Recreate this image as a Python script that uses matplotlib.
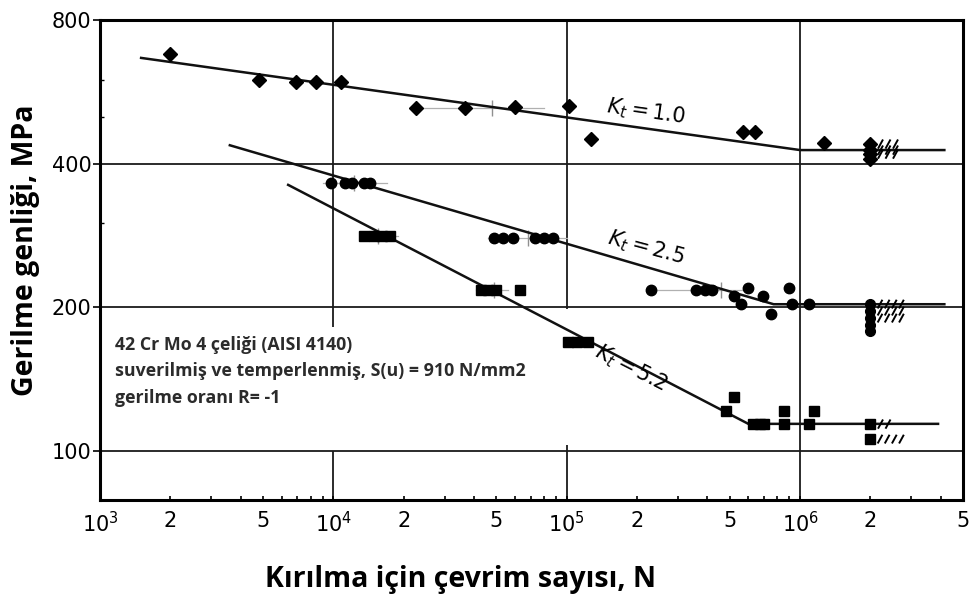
import numpy as np
import matplotlib
matplotlib.use("Agg")
import matplotlib.pyplot as plt
from matplotlib.path import Path
from matplotlib.ticker import FixedLocator, NullFormatter

# ---- data ----
# Kt = 1.0, smooth specimens (diamonds)
kt10_N = [2.0e3, 4.8e3, 6.9e3, 8.4e3, 1.08e4, 2.27e4, 3.65e4, 6.0e4, 1.02e5, 1.27e5, 5.7e5, 6.4e5, 1.26e6]
kt10_S = [680, 600, 594, 594, 594, 522, 522, 525, 527, 450, 466, 466, 441]
kt10_runout_N = [2.0e6, 2.0e6, 2.0e6, 2.0e6]
kt10_runout_S = [440, 428, 418, 408]
kt10_line_N = [1.5e3, 1.0e6, 4.15e6]
kt10_line_S = [666, 427, 427]

# Kt = 2.5 (circles)
kt25_N = [9.8e3, 1.12e4, 1.2e4, 1.35e4, 1.44e4,
          4.86e4, 5.34e4, 5.9e4, 7.3e4, 8.0e4, 8.7e4,
          2.29e5, 3.58e5, 3.9e5, 4.2e5, 5.2e5, 5.6e5, 6.0e5, 6.9e5, 7.5e5, 9.0e5, 9.2e5, 1.09e6]
kt25_S = [365, 365, 365, 365, 365,
          280, 280, 280, 280, 280, 280,
          217, 217, 217, 217, 211, 203, 219, 211, 194, 219, 203, 203]
kt25_runout_N = [2.0e6, 2.0e6, 2.0e6, 2.0e6, 2.0e6]
kt25_runout_S = [203, 196, 190, 184, 178]
kt25_line_N = [3.6e3, 7.7e5, 4.15e6]
kt25_line_S = [437, 203, 203]

# Kt = 5.2 (squares)
kt52_N = [1.35e4, 1.5e4, 1.62e4, 1.75e4,
          4.3e4, 4.6e4, 5.0e4, 6.3e4,
          1.01e5, 1.11e5, 1.23e5,
          4.8e5, 5.2e5, 6.3e5, 6.7e5, 7.0e5, 8.5e5, 8.5e5, 1.09e6, 1.15e6]
kt52_S = [282, 282, 282, 282,
          217, 217, 217, 217,
          169, 169, 169,
          121, 130, 114, 114, 114, 114, 121, 114, 121]
kt52_runout_N = [2.0e6, 2.0e6]
kt52_runout_S = [114, 106]
kt52_line_N = [6.4e3, 6.0e5, 3.9e6]
kt52_line_S = [361, 114, 114]

# scatter bands: (N low, N high, stress, N of cross)
bands = [
    (2.3e4, 8.0e4, 522, 4.8e4),
    (9.0e3, 1.7e4, 365, 1.22e4),
    (4.6e4, 1.0e5, 280, 6.8e4),
    (2.3e5, 6.0e5, 217, 4.6e5),
    (1.3e4, 1.9e4, 282, 1.55e4),
    (4.1e4, 5.6e4, 217, 4.9e4),
]

x_ticks = [1e3, 2e3, 5e3, 1e4, 2e4, 5e4, 1e5, 2e5, 5e5, 1e6, 2e6, 5e6]
x_labels = [r'$10^3$', '2', '5', r'$10^4$', '2', '5', r'$10^5$', '2', '5', r'$10^6$', '2', '5']
y_ticks = [100, 200, 400, 800]
y_labels = ['100', '200', '400', '800']

info_lines = ["42 Cr Mo 4 çeliği (AISI 4140)",
              "suverilmiş ve temperlenmiş, S(u) = 910 N/mm2",
              "gerilme oranı R= -1"]


def runout_marker(n):
    # n slanted strokes to the right of the point (run-out arrows)
    verts, codes = [(-4, 0), (-4, 0)], [Path.MOVETO, Path.LINETO]
    for i in range(n):
        x0 = 1.2 + 0.9 * i
        verts += [(x0 - 0.3, -0.5), (x0 + 0.3, 0.6)]
        codes += [Path.MOVETO, Path.LINETO]
    return Path(verts, codes)


# ---- figure ----
fig = plt.figure(figsize=(9.71, 6.03), dpi=100)
ax = fig.add_axes([0.103, 0.171, 0.889, 0.796])
ax.set_xscale('log')
ax.set_yscale('log')
ax.set_xlim(1e3, 5e6)
ax.set_ylim(79, 800)

# grid (with the gaps of the original drawing)
for yv in [100, 200, 400]:
    ax.axhline(yv, color='#1a1a1a', lw=1.3, zorder=1)
ax.vlines(1e4, 79, 100, color='#1a1a1a', lw=1.3, zorder=1)
ax.vlines(1e4, 182, 800, color='#1a1a1a', lw=1.3, zorder=1)
ax.vlines(1e5, 79, 103, color='#1a1a1a', lw=1.3, zorder=1)
ax.vlines(1e5, 198, 800, color='#1a1a1a', lw=1.3, zorder=1)
ax.vlines(1e6, 79, 800, color='#1a1a1a', lw=1.3, zorder=1)

# scatter bands
for lo, hi, s, mid in bands:
    ax.plot([lo, hi], [s, s], color='#b0b0b0', lw=0.9, zorder=2)
    ax.plot([mid], [s], marker='|', ms=11, mew=1.0, color='#909090', zorder=2)

# fitted curves
for n, s in [(kt10_line_N, kt10_line_S), (kt25_line_N, kt25_line_S), (kt52_line_N, kt52_line_S)]:
    ax.plot(n, s, color='#111111', lw=1.8, zorder=3)

# data
ax.plot(kt10_N, kt10_S, 'D', ms=7.5, color='black', zorder=4)
ax.plot(kt10_runout_N, kt10_runout_S, 'D', ms=7, color='black', zorder=4)
ax.plot(kt25_N, kt25_S, 'o', ms=7.5, color='black', zorder=4)
ax.plot(kt25_runout_N, kt25_runout_S, 'o', ms=7, color='black', zorder=4)
ax.plot(kt52_N, kt52_S, 's', ms=7, color='black', zorder=4)
ax.plot(kt52_runout_N, kt52_runout_S, 's', ms=7, color='black', zorder=4)

# run-out strokes
ax.plot(kt10_runout_N[:3], kt10_runout_S[:3], ls='none', marker=runout_marker(3), ms=48,
        mew=1.4, color='black', zorder=4)
ax.plot(kt25_runout_N[:3], kt25_runout_S[:3], ls='none', marker=runout_marker(4), ms=48,
        mew=1.4, color='black', zorder=4)
ax.plot(kt52_runout_N[:1], kt52_runout_S[:1], ls='none', marker=runout_marker(2), ms=48,
        mew=1.4, color='black', zorder=4)
ax.plot(kt52_runout_N[1:], kt52_runout_S[1:], ls='none', marker=runout_marker(4), ms=48,
        mew=1.4, color='black', zorder=4)

# curve labels
ax.text(2.18e5, 513, r'$K_t=1.0$', fontsize=15, rotation=-8, ha='center', va='center')
ax.text(2.18e5, 266, r'$K_t=2.5$', fontsize=15, rotation=-15, ha='center', va='center')
ax.text(1.88e5, 149, r'$K_t=5.2$', fontsize=15, rotation=-27, ha='center', va='center')

# material note
for i, line in enumerate(info_lines):
    fig.text(115 / 971, 1 - (345 + 26.5 * i) / 603, line, fontsize=12.8, fontweight='bold',
             family='Open Sans', color='#2b2b2b', ha='left', va='center')

# ticks
ax.xaxis.set_major_locator(FixedLocator(x_ticks))
ax.set_xticklabels(x_labels)
ax.xaxis.set_minor_locator(FixedLocator([k * 10 ** e for e in range(3, 7) for k in range(2, 10)
                                          if k * 10 ** e < 5e6]))
ax.xaxis.set_minor_formatter(NullFormatter())
ax.tick_params(axis='x', which='both', direction='in', length=3, width=1.2, labelsize=15, pad=8)
ax.yaxis.set_major_locator(FixedLocator(y_ticks))
ax.set_yticklabels(y_labels)
ax.yaxis.set_minor_locator(FixedLocator([300, 500, 600]))
ax.yaxis.set_minor_formatter(NullFormatter())
ax.tick_params(axis='y', which='major', direction='out', length=5, width=1.2, labelsize=15, pad=1)
ax.tick_params(axis='y', which='minor', direction='in', length=3, width=1.0)

for sp in ax.spines.values():
    sp.set_linewidth(2.2)

fig.text(0.026, 1 - 250 / 603, 'Gerilme genliği, MPa', rotation=90, fontsize=20.5, fontweight='bold',
         family='Open Sans', ha='center', va='center')
fig.text(460 / 971, 1 - 580 / 603, 'Kırılma için çevrim sayısı, N', fontsize=20.5, fontweight='bold',
         family='Open Sans', ha='center', va='center')

fig.savefig('out.png', dpi=100)
